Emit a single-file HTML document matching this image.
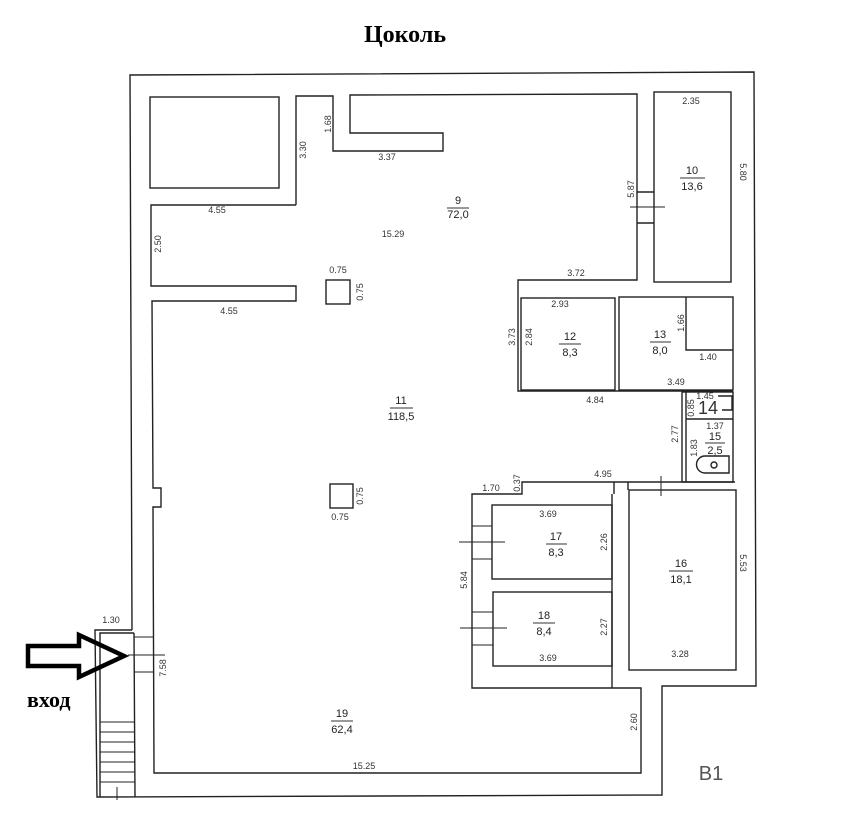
<!DOCTYPE html>
<html><head><meta charset="utf-8"><style>
html,body{margin:0;padding:0;background:#fff;}
svg{display:block}
text{font-family:"Liberation Sans",sans-serif;font-size:9px;fill:#333}
.t{font-family:"Liberation Serif",serif;font-weight:bold;fill:#000}
.r{font-size:11px;fill:#222}
</style></head><body>
<svg width="841" height="819" viewBox="0 0 841 819" xmlns="http://www.w3.org/2000/svg">
<g fill="none" stroke="#222" stroke-width="1.4">
<polyline points="132,630 130,75 754,72 756,686 662,686 662,795 97,797 95,630 132,630"/>
<polyline points="100,797 100,633 134,633"/>
<line x1="134" y1="633" x2="135" y2="797"/>
<g stroke-width="1">
<line x1="100" y1="722" x2="135" y2="722"/><line x1="100" y1="732" x2="135" y2="732"/><line x1="100" y1="742" x2="135" y2="742"/>
<line x1="100" y1="752" x2="135" y2="752"/><line x1="100" y1="762" x2="135" y2="762"/><line x1="100" y1="772" x2="135" y2="772"/>
<line x1="100" y1="782" x2="135" y2="782"/><line x1="117" y1="787" x2="117" y2="800"/>
<line x1="134" y1="637" x2="154" y2="637"/><line x1="128" y1="655" x2="165" y2="655"/><line x1="134" y1="672" x2="154" y2="672"/>
</g>
<rect x="150" y="97" width="129" height="91"/>
<polyline points="296,205 296,96 333,96 333,151 443,151 443,133 350,133 350,95 637,94 637,280 518,280 518,391 733,391"/>
<polyline points="296,205 151,205 151,286 296,286 296,301 152,301 153,488 161,488 161,507 153,507 154,773 641,773 641,688 472,688 472,494 522,494 522,482 735,482"/>
<rect x="326" y="280" width="24" height="24"/>
<rect x="330" y="484" width="23" height="24"/>
<rect x="654" y="92" width="77" height="190"/>
<line x1="637" y1="192" x2="654" y2="192"/><line x1="637" y1="223" x2="654" y2="223"/><line x1="630" y1="207" x2="665" y2="207" stroke-width="1"/>
<rect x="521" y="298" width="94" height="92"/>
<rect x="619" y="297" width="114" height="93"/>
<polyline points="686,297 686,350 733,350"/>
<rect x="682" y="392" width="51" height="90"/>
<line x1="686" y1="392" x2="686" y2="482"/>
<line x1="686" y1="419" x2="733" y2="419"/>
<path d="M705,456 h24 v17 h-24 a8,8 0 0 1 0,-17z"/>
<circle cx="714" cy="465" r="3"/>
<path d="M718,396 h14 v14 h-10"/>
<rect x="629" y="490" width="107" height="180"/>
<line x1="612" y1="494" x2="612" y2="688"/>
<line x1="614" y1="482" x2="614" y2="494"/><line x1="628" y1="482" x2="628" y2="490"/>
<line x1="661" y1="476" x2="661" y2="496" stroke-width="1"/>
<rect x="492" y="505" width="120" height="74"/>
<rect x="493" y="592" width="119" height="74"/>
<g stroke-width="1">
<line x1="472" y1="526" x2="492" y2="526"/><line x1="472" y1="559" x2="492" y2="559"/><line x1="459" y1="542" x2="505" y2="542"/>
<line x1="472" y1="612" x2="493" y2="612"/><line x1="472" y1="645" x2="493" y2="645"/><line x1="460" y1="628" x2="507" y2="628"/>
</g>
</g>
<polygon points="28,646 79,646 79,635 124,656 79,677 79,666 28,666" fill="none" stroke="#000" stroke-width="4.5" stroke-linejoin="miter"/>
<text x="405" y="42" text-anchor="middle" class="t" style="font-size:24px">Цоколь</text>
<text x="27" y="707" class="t" style="font-size:22px">вход</text>
<g text-anchor="middle">
<text x="458" y="204" class="r">9</text><line x1="447" y1="208" x2="469" y2="208" stroke="#333"/><text x="458" y="218" class="r">72,0</text>
<text x="393" y="237">15.29</text>
<text x="387" y="160">3.37</text>
<text x="217" y="213">4.55</text>
<text x="229" y="314">4.55</text>
<text x="338" y="273">0.75</text>
<text x="340" y="520">0.75</text>
<text x="691" y="104">2.35</text>
<text x="692" y="174" class="r">10</text><line x1="680" y1="178" x2="705" y2="178" stroke="#333"/><text x="692" y="190" class="r">13,6</text>
<text x="576" y="276">3.72</text>
<text x="560" y="307">2.93</text>
<text x="570" y="340" class="r">12</text><line x1="559" y1="344" x2="581" y2="344" stroke="#333"/><text x="570" y="356" class="r">8,3</text>
<text x="660" y="338" class="r">13</text><line x1="650" y1="342" x2="671" y2="342" stroke="#333"/><text x="660" y="354" class="r">8,0</text>
<text x="708" y="360">1.40</text>
<text x="676" y="385">3.49</text>
<text x="595" y="403">4.84</text>
<text x="705" y="399">1.45</text>
<text x="708" y="414" style="font-size:18px">14</text>
<text x="715" y="429">1.37</text>
<text x="715" y="440" class="r">15</text><line x1="705" y1="443" x2="725" y2="443" stroke="#333"/><text x="715" y="454" class="r">2,5</text>
<text x="603" y="477">4.95</text>
<text x="491" y="491">1.70</text>
<text x="401" y="404" class="r">11</text><line x1="390" y1="408" x2="413" y2="408" stroke="#333"/><text x="401" y="420" class="r">118,5</text>
<text x="548" y="517">3.69</text>
<text x="556" y="540" class="r">17</text><line x1="546" y1="544" x2="567" y2="544" stroke="#333"/><text x="556" y="556" class="r">8,3</text>
<text x="544" y="619" class="r">18</text><line x1="533" y1="623" x2="555" y2="623" stroke="#333"/><text x="544" y="635" class="r">8,4</text>
<text x="548" y="661">3.69</text>
<text x="681" y="567" class="r">16</text><line x1="669" y1="571" x2="693" y2="571" stroke="#333"/><text x="681" y="583" class="r">18,1</text>
<text x="680" y="657">3.28</text>
<text x="111" y="623">1.30</text>
<text x="342" y="717" class="r">19</text><line x1="331" y1="721" x2="353" y2="721" stroke="#333"/><text x="342" y="733" class="r">62,4</text>
<text x="364" y="769">15.25</text>
<text x="711" y="780" style="font-size:20px;fill:#555">B1</text>
</g>
<g>
<text transform="translate(306,150) rotate(-90)" text-anchor="middle">3.30</text>
<text transform="translate(331,124) rotate(-90)" text-anchor="middle">1.68</text>
<text transform="translate(161,244) rotate(-90)" text-anchor="middle">2.50</text>
<text transform="translate(363,292) rotate(-90)" text-anchor="middle">0.75</text>
<text transform="translate(363,496) rotate(-90)" text-anchor="middle">0.75</text>
<text transform="translate(634,189) rotate(-90)" text-anchor="middle">5.87</text>
<text transform="translate(740,172) rotate(90)" text-anchor="middle">5.80</text>
<text transform="translate(515,337) rotate(-90)" text-anchor="middle">3.73</text>
<text transform="translate(532,337) rotate(-90)" text-anchor="middle">2.84</text>
<text transform="translate(684,323) rotate(-90)" text-anchor="middle">1.66</text>
<text transform="translate(694,408) rotate(-90)" text-anchor="middle">0.85</text>
<text transform="translate(678,434) rotate(-90)" text-anchor="middle">2.77</text>
<text transform="translate(697,448) rotate(-90)" text-anchor="middle">1.83</text>
<text transform="translate(520,483) rotate(-90)" text-anchor="middle">0.37</text>
<text transform="translate(607,542) rotate(-90)" text-anchor="middle">2.26</text>
<text transform="translate(607,627) rotate(-90)" text-anchor="middle">2.27</text>
<text transform="translate(467,580) rotate(-90)" text-anchor="middle">5.84</text>
<text transform="translate(740,563) rotate(90)" text-anchor="middle">5.53</text>
<text transform="translate(637,722) rotate(-90)" text-anchor="middle">2.60</text>
<text transform="translate(166,668) rotate(-90)" text-anchor="middle">7.58</text>
</g>
</svg>
</body></html>
